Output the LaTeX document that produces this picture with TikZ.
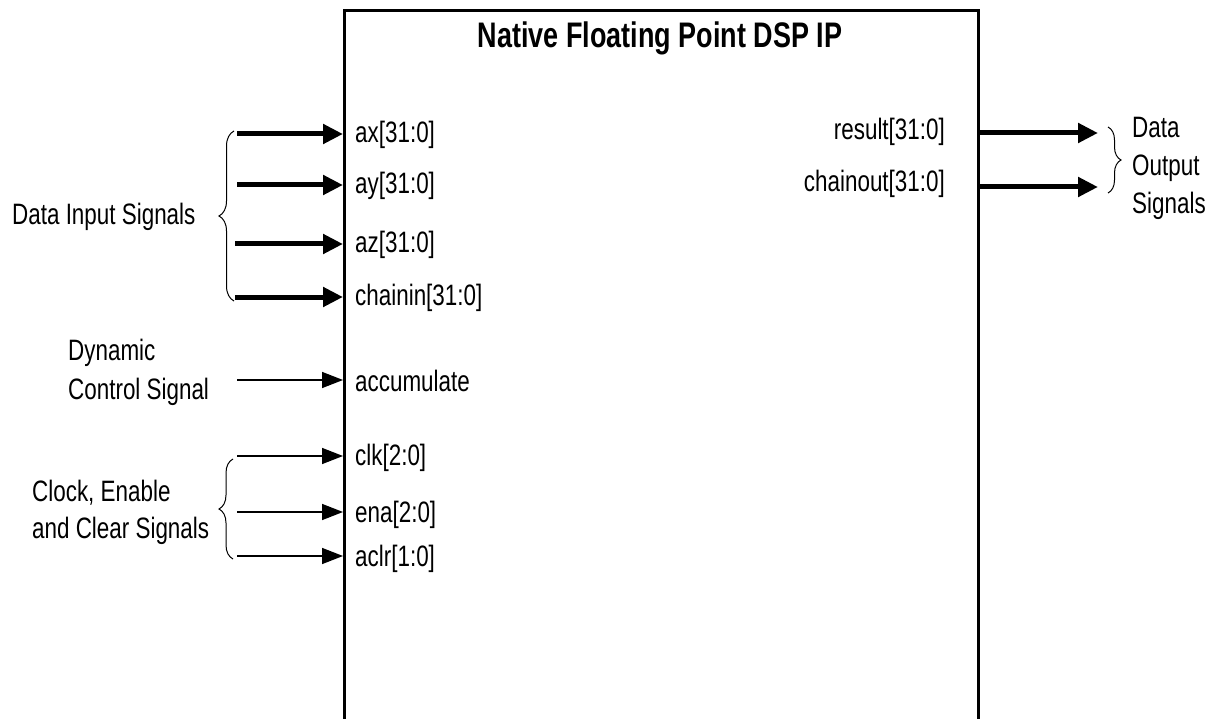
\documentclass[tikz,border=0pt]{standalone}
\usepackage{fontspec}
\setmainfont[FakeStretch=0.76]{Liberation Sans}
\usetikzlibrary{arrows.meta,decorations.pathreplacing}
\begin{document}
\begin{tikzpicture}[x=1pt,y=-1pt,
  lbl/.style={font=\fontsize{29.5}{37}\selectfont, inner sep=0pt, align=left},
  thickarrow/.style={line width=5pt, -{Triangle[length=20pt,width=19pt]}},
  thinarrow/.style={line width=1.5pt, -{Triangle[length=21pt,width=16pt]}},
  brc/.style={line width=1pt, decorate, decoration={brace, amplitude=#1}}
]
\useasboundingbox (0,0) rectangle (1220,719);
% IP block (bottom edge lies below the page)
\node[draw, line width=3pt, minimum width=634pt, minimum height=800pt, anchor=north west, inner sep=0pt] (ip) at (343,9) {};
\node[font=\bfseries\fontsize{35.5}{40}\selectfont, inner sep=0pt] (title) at (660,38) {Native Floating Point DSP IP};

% input port labels
\node[lbl, anchor=west] (ax) at (355,135) {ax[31:0]};
\node[lbl, anchor=west] (ay) at (355,186) {ay[31:0]};
\node[lbl, anchor=west] (az) at (355,245) {az[31:0]};
\node[lbl, anchor=west] (chainin) at (355,298) {chainin[31:0]};
\node[lbl, anchor=west] (accumulate) at (355,381) {accumulate};
\node[lbl, anchor=west] (clk) at (355,458) {clk[2:0]};
\node[lbl, anchor=west] (ena) at (355,515) {ena[2:0]};
\node[lbl, anchor=west] (aclr) at (355,559) {aclr[1:0]};

% output port labels
\node[lbl, anchor=east] (result) at (945,132) {result[31:0]};
\node[lbl, anchor=east] (chainout) at (945,184) {chainout[31:0]};

% input arrows
\coordinate (sax) at (237,134);
\coordinate (say) at (237,185);
\coordinate (saz) at (235,244);
\coordinate (sch) at (235,297);
\coordinate (sacc) at (237,380);
\coordinate (sclk) at (237,456);
\coordinate (sena) at (237,512);
\coordinate (saclr) at (237,556);
\draw[thickarrow] (sax) -- (sax -| ip.west);
\draw[thickarrow] (say) -- (say -| ip.west);
\draw[thickarrow] (saz) -- (saz -| ip.west);
\draw[thickarrow] (sch) -- (sch -| ip.west);
\draw[thinarrow] (sacc) -- (sacc -| ip.west);
\draw[thinarrow] (sclk) -- (sclk -| ip.west);
\draw[thinarrow] (sena) -- (sena -| ip.west);
\draw[thinarrow] (saclr) -- (saclr -| ip.west);

% output arrows
\coordinate (eres) at (1098,133);
\coordinate (echo) at (1098,187);
\draw[thickarrow] (eres -| ip.east) -- (eres);
\draw[thickarrow] (echo -| ip.east) -- (echo);

% group labels and braces
\node[lbl, anchor=west] (datain) at (12,217) {Data Input Signals};
\coordinate (b1top) at (234,131);
\coordinate (b1bot) at (234,301);
\draw[brc=15pt] (b1bot) -- (b1top);

\node[lbl, anchor=west, font=\fontsize{29.5}{39}\selectfont] (dyn) at (68,372) {Dynamic\\Control Signal};

\node[lbl, anchor=west] (clkgrp) at (32,512) {Clock, Enable\\and Clear Signals};
\coordinate (b2top) at (233,459);
\coordinate (b2bot) at (233,559);
\draw[brc=14pt] (b2bot) -- (b2top);

\node[lbl, anchor=west, font=\fontsize{29.5}{38}\selectfont] (dataout) at (1132,168) {Data\\Output\\Signals};
\coordinate (b3top) at (1108,127);
\coordinate (b3bot) at (1108,193);
\draw[brc=13pt] (b3top) -- (b3bot);
\end{tikzpicture}
\end{document}
